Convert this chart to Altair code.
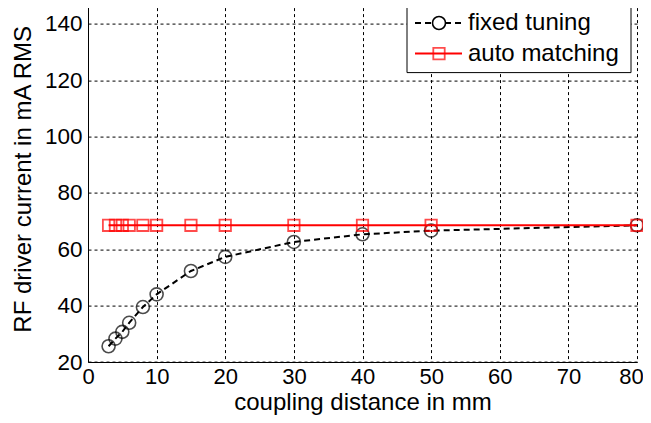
import altair as alt
import pandas as pd

distance = [3, 4, 5, 6, 8, 10, 15, 20, 30, 40, 50, 80]
fixed_tuning = [25.6, 28.3, 30.7, 33.9, 39.5, 44.0, 52.3, 57.3, 62.6, 65.3, 66.6, 68.5]
auto_matching = [68.5, 68.5, 68.5, 68.5, 68.5, 68.5, 68.5, 68.5, 68.5, 68.5, 68.5, 68.5]
x_ticks = [0, 10, 20, 30, 40, 50, 60, 70, 80]
y_ticks = [20, 40, 60, 80, 100, 120, 140]
series_names = ["fixed tuning", "auto matching"]

df = pd.DataFrame({"d": distance, "fixed": fixed_tuning, "auto": auto_matching})

FONT = "Liberation Sans"
W, H = 549, 366.4

xs = alt.Scale(domain=[0, 80], nice=False)
ys = alt.Scale(domain=[20, 150], nice=False)

xaxis = alt.Axis(values=x_ticks, title="coupling distance in mm", grid=True,
                 gridColor="black", gridDash=[3, 3], gridOpacity=1, gridWidth=1,
                 domainColor="black", domainWidth=1, ticks=False,
                 labelFont=FONT, labelFontSize=22, labelColor="black", labelPadding=4,
                 labelOffset={"condition": {"test": "datum.value == 80", "value": -6}, "value": 0},
                 titleFont=FONT, titleFontSize=24, titleFontWeight="normal", titleColor="black",
                 titleBaseline="alphabetic", titleY=47.5, labelFlush=False)
yaxis = alt.Axis(values=y_ticks, title="RF driver current in mA RMS", grid=True,
                 gridColor="black", gridDash=[3, 3], gridOpacity=1, gridWidth=1,
                 domainColor="black", domainWidth=1, ticks=False,
                 labelFont=FONT, labelFontSize=22.5, labelColor="black", labelPadding=6,
                 titleFont=FONT, titleFontSize=24, titleFontWeight="normal", titleColor="black",
                 titlePadding=9, labelFlush=False)

base = alt.Chart(df)

fixed_line = base.mark_line(color="black", strokeWidth=2, strokeDash=[6, 4]).encode(
    x=alt.X("d:Q", scale=xs, axis=xaxis), y=alt.Y("fixed:Q", scale=ys, axis=yaxis))
fixed_pts = base.mark_point(shape="circle", size=169, color="black", strokeWidth=1.6, filled=False).encode(
    x=alt.X("d:Q", scale=xs), y=alt.Y("fixed:Q", scale=ys))
auto_line = base.mark_line(color="#ff0000", strokeWidth=2).encode(
    x=alt.X("d:Q", scale=xs), y=alt.Y("auto:Q", scale=ys))
auto_pts = base.mark_point(shape="square", size=130, color="#ff0000", strokeWidth=1.8, filled=False).encode(
    x=alt.X("d:Q", scale=xs), y=alt.Y("auto:Q", scale=ys))

one = alt.Data(values=[{"k": 0}])
lx0, lx1, ly0, ly1 = 319, 543, 8.4, 77
r1, r2 = 27.4, 58
sx0, sx1, sm, tx = 327, 374, 351, 380

leg_box = alt.Chart(one).mark_rect(fill="white", stroke="black", strokeWidth=1).encode(
    x=alt.value(lx0), x2=alt.value(lx1), y=alt.value(ly0), y2=alt.value(ly1))
leg_l1 = alt.Chart(one).mark_rule(color="black", strokeWidth=2, strokeDash=[6, 4]).encode(
    x=alt.value(sx0), x2=alt.value(sx1), y=alt.value(r1))
leg_p1 = alt.Chart(one).mark_point(shape="circle", size=169, color="black", strokeWidth=1.6, filled=False,
                                   fill="white", fillOpacity=1).encode(x=alt.value(sm), y=alt.value(r1))
leg_t1 = alt.Chart(one).mark_text(align="left", baseline="middle", font=FONT, fontSize=24, color="black").encode(
    x=alt.value(tx), y=alt.value(r1), text=alt.value(series_names[0]))
leg_l2 = alt.Chart(one).mark_rule(color="#ff0000", strokeWidth=2).encode(
    x=alt.value(sx0), x2=alt.value(sx1), y=alt.value(r2))
leg_p2 = alt.Chart(one).mark_point(shape="square", size=130, color="#ff0000", strokeWidth=1.8, filled=False).encode(
    x=alt.value(sm), y=alt.value(r2))
leg_t2 = alt.Chart(one).mark_text(align="left", baseline="middle", font=FONT, fontSize=24, color="black").encode(
    x=alt.value(tx), y=alt.value(r2), text=alt.value(series_names[1]))

chart = alt.layer(
    fixed_line, fixed_pts, auto_line, auto_pts,
    leg_box, leg_l1, leg_p1, leg_t1, leg_l2, leg_p2, leg_t2
).properties(
    width=W, height=H, autosize="none",
    padding={"left": 80, "top": -12.4, "right": 6, "bottom": 53},
    background="white"
).configure_view(stroke=None)

chart.save("out.html", embed_options={"renderer": "svg", "actions": False})
